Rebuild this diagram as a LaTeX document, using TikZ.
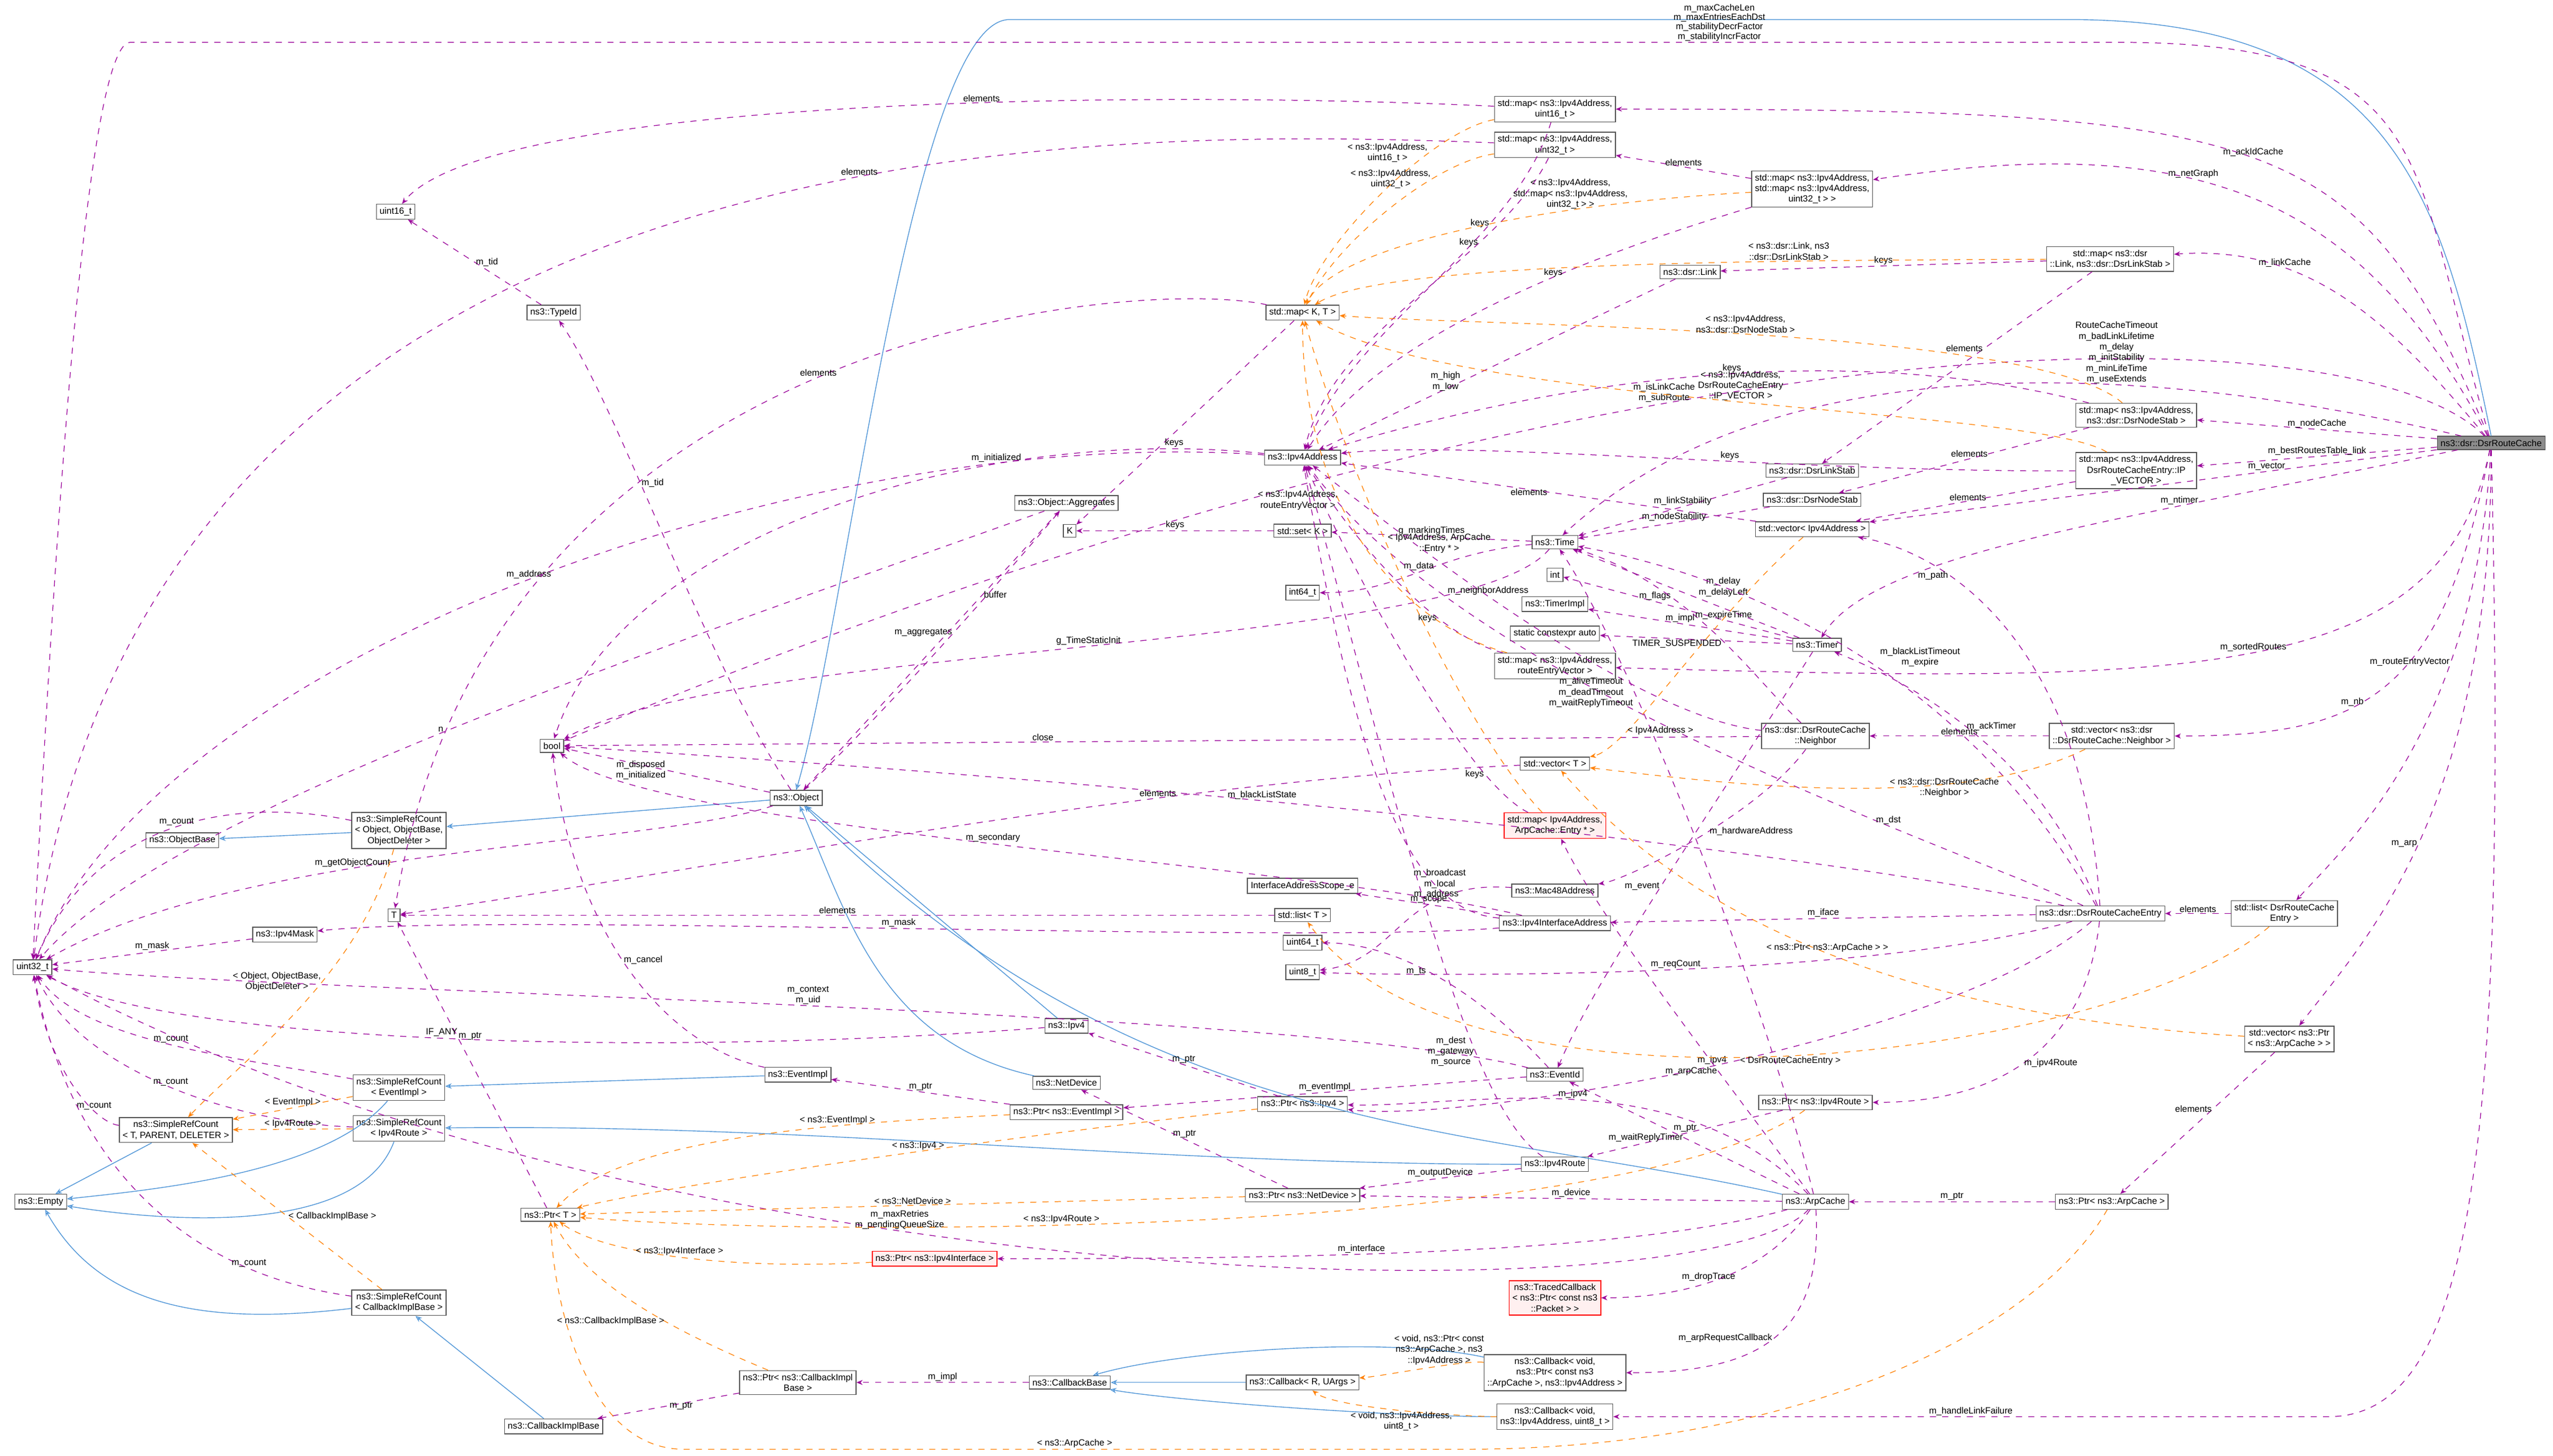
\documentclass[tikz,border=0pt]{standalone}
\usepackage{fontspec}
\setmainfont{Liberation Sans}
\usetikzlibrary{arrows.meta}
\begin{document}
\begin{tikzpicture}[x=0.02796cm,y=-0.02796cm,
  font=\fontsize{4.4}{5.2}\selectfont,
  box/.style={draw=black!65,fill=white,inner sep=1.6pt,align=center,line width=0.4pt},
  redbox/.style={box,draw=red,fill=red!6},
  cur/.style={box,fill=black!45},
  use/.style={draw=violet!80!magenta,dashed,line width=0.35pt,-{Stealth[length=3pt,width=2.4pt]}},
  tpl/.style={draw=orange,dashed,line width=0.35pt,-{Stealth[length=3pt,width=2.4pt]}},
  inh/.style={draw=cyan!60!blue!70,line width=0.4pt,-{Stealth[length=3.2pt,width=2.6pt,open]}},
  lb/.style={fill=none,inner sep=0.5pt,align=center,text=black}]
\useasboundingbox (0,0) rectangle (1568,894);
% nodes
\node[cur] (drc) at (1530,272) {ns3::dsr::DsrRouteCache};
\node[box] (m16) at (955,67) {std::map< ns3::Ipv4Address,\\uint16\_t >};
\node[box] (m32) at (955,89) {std::map< ns3::Ipv4Address,\\uint32\_t >};
\node[box] (mm) at (1113,116) {std::map< ns3::Ipv4Address,\\std::map< ns3::Ipv4Address,\\uint32\_t > >};
\node[box] (mlink) at (1296,159) {std::map< ns3::dsr\\::Link, ns3::dsr::DsrLinkStab >};
\node[box] (link) at (1038,167) {ns3::dsr::Link};
\node[box] (mkt) at (800,192) {std::map< K, T >};
\node[box] (u16) at (243,130) {uint16\_t};
\node[box] (tid) at (340,192) {ns3::TypeId};
\node[box] (agg) at (655,309) {ns3::Object::Aggregates};
\node[box] (K) at (657,326) {K};
\node[box] (setk) at (800,326) {std::set< K >};
\node[box] (ip) at (800,281) {ns3::Ipv4Address};
\node[box] (mnode) at (1312,255) {std::map< ns3::Ipv4Address,\\ns3::dsr::DsrNodeStab >};
\node[box] (mipv) at (1312,289) {std::map< ns3::Ipv4Address,\\DsrRouteCacheEntry::IP\\\_VECTOR >};
\node[box] (lstab) at (1113,289) {ns3::dsr::DsrLinkStab};
\node[box] (nstab) at (1113,307) {ns3::dsr::DsrNodeStab};
\node[box] (vip) at (1113,325) {std::vector< Ipv4Address >};
\node[box] (time) at (955,333) {ns3::Time};
\node[box] (int) at (955,353) {int};
\node[box] (i64) at (800,364) {int64\_t};
\node[box] (timpl) at (955,371) {ns3::TimerImpl};
\node[box] (sca) at (955,389) {static constexpr auto};
\node[box] (mrev) at (955,409) {std::map< ns3::Ipv4Address,\\routeEntryVector >};
\node[box] (timer) at (1116,396) {ns3::Timer};
\node[box] (nb) at (1115,452) {ns3::dsr::DsrRouteCache\\::Neighbor};
\node[box] (vnb) at (1297,452) {std::vector< ns3::dsr\\::DsrRouteCache::Neighbor >};
\node[box] (bool) at (339,458) {bool};
\node[box] (vt) at (955,469) {std::vector< T >};
\node[box] (obj) at (489,490) {ns3::Object};
\node[redbox] (marp) at (955,507) {std::map< Ipv4Address,\\ArpCache::Entry * >};
\node[box] (ob) at (112,516) {ns3::ObjectBase};
\node[box] (srco) at (245,510) {ns3::SimpleRefCount\\< Object, ObjectBase,\\ObjectDeleter >};
\node[box] (mac) at (955,547) {ns3::Mac48Address};
\node[box] (scope) at (800,544) {InterfaceAddressScope\_e};
\node[box] (lt) at (800,562) {std::list< T >};
\node[box] (T) at (242,562) {T};
\node[box] (iia) at (955,567) {ns3::Ipv4InterfaceAddress};
\node[box] (rce) at (1290,561) {ns3::dsr::DsrRouteCacheEntry};
\node[box] (lrce) at (1403,561) {std::list< DsrRouteCache\\Entry >};
\node[box] (u64) at (800,579) {uint64\_t};
\node[box] (u8) at (800,597) {uint8\_t};
\node[box] (u32) at (20,594) {uint32\_t};
\node[box] (mask) at (175,574) {ns3::Ipv4Mask};
\node[box] (ipv4) at (655,630) {ns3::Ipv4};
\node[box] (eid) at (955,660) {ns3::EventId};
\node[box] (eimpl) at (490,660) {ns3::EventImpl};
\node[box] (srce) at (245,668) {ns3::SimpleRefCount\\< EventImpl >};
\node[box] (varp) at (1406,638) {std::vector< ns3::Ptr\\< ns3::ArpCache > >};
\node[box] (nd) at (655,665) {ns3::NetDevice};
\node[box] (pei) at (655,683) {ns3::Ptr< ns3::EventImpl >};
\node[box] (pipv4) at (800,678) {ns3::Ptr< ns3::Ipv4 >};
\node[box] (pir) at (1115,677) {ns3::Ptr< ns3::Ipv4Route >};
\node[box] (srct) at (108,694) {ns3::SimpleRefCount\\< T, PARENT, DELETER >};
\node[box] (srcr) at (245,693) {ns3::SimpleRefCount\\< Ipv4Route >};
\node[box] (ir) at (955,715) {ns3::Ipv4Route};
\node[box] (empty) at (25,738) {ns3::Empty};
\node[box] (pt) at (338,746) {ns3::Ptr< T >};
\node[box] (pnd) at (800,734) {ns3::Ptr< ns3::NetDevice >};
\node[box] (arp) at (1115,738) {ns3::ArpCache};
\node[box] (parp) at (1297,738) {ns3::Ptr< ns3::ArpCache >};
\node[redbox] (pif) at (574,773) {ns3::Ptr< ns3::Ipv4Interface >};
\node[redbox] (tc) at (955,797) {ns3::TracedCallback\\< ns3::Ptr< const ns3\\::Packet > >};
\node[box] (srcc) at (245,800) {ns3::SimpleRefCount\\< CallbackImplBase >};
\node[box] (cbarp) at (955,843) {ns3::Callback< void,\\ns3::Ptr< const ns3\\::ArpCache >, ns3::Ipv4Address >};
\node[box] (pcib) at (490,849) {ns3::Ptr< ns3::CallbackImpl\\Base >};
\node[box] (cbb) at (657,849) {ns3::CallbackBase};
\node[box] (cbr) at (800,849) {ns3::Callback< R, UArgs >};
\node[box] (cbip) at (955,870) {ns3::Callback< void,\\ns3::Ipv4Address, uint8\_t >};
\node[box] (cib) at (340,876) {ns3::CallbackImplBase};
% inheritance
\draw[inh] (drc.north) .. controls (1500,120) and (1470,12) .. (1270,12) -- (620,12) .. controls (560,12) and (520,380) .. (obj.north);
\draw[inh] (obj) -- (srco);
\draw[inh] (srco) -- (ob);
\draw[inh] (srct) -- (empty);
\draw[inh] (srce) .. controls (200,720) and (100,730) .. (empty);
\draw[inh] (eimpl) -- (srce);
\draw[inh] (srcr) .. controls (220,760) and (100,750) .. (empty);
\draw[inh] (ir) .. controls (700,715) and (500,690) .. (srcr);
\draw[inh] (srcc) .. controls (120,815) and (60,800) .. (empty);
\draw[inh] (cib) -- (srcc);
\draw[inh] (ipv4) -- (obj);
\draw[inh] (nd) .. controls (540,640) and (520,560) .. (obj);
\draw[inh] (arp) .. controls (900,690) and (700,700) .. (obj);
\draw[inh] (cbarp) .. controls (850,820) and (720,830) .. (cbb);
\draw[inh] (cbr) -- (cbb);
\draw[inh] (cbip) .. controls (850,870) and (720,860) .. (cbb);
% usage from DsrRouteCache
\draw[use] (drc) .. controls (1480,100) and (1500,26) .. (1300,26) -- node[lb,pos=0.2,above,font=\fontsize{4.4}{4.6}\selectfont]{m\_maxCacheLen\\m\_maxEntriesEachDst\\m\_stabilityDecrFactor\\m\_stabilityIncrFactor} (80,26) .. controls (50,26) and (30,400) .. (u32);
\draw[use] (drc) .. controls (1450,80) and (1400,67) .. node[lb,pos=0.5,above]{m\_ackIdCache} (m16);
\draw[use] (drc) .. controls (1450,120) and (1350,80) .. node[lb,pos=0.6,above]{m\_netGraph} (mm);
\draw[use] (drc) .. controls (1470,200) and (1420,150) .. node[lb,pos=0.7,above]{m\_linkCache} (mlink);
\draw[use] (drc) .. controls (1450,190) and (1000,180) .. node[lb,pos=0.6,above]{m\_isLinkCache\\m\_subRoute} (bool);
\draw[use] (drc) .. controls (1350,230) and (1100,200) .. node[lb,pos=0.38,above]{RouteCacheTimeout\\m\_badLinkLifetime\\m\_delay\\m\_initStability\\m\_minLifeTime\\m\_useExtends} (time);
\draw[use] (drc) -- node[lb,above]{m\_nodeCache} (mnode);
\draw[use] (drc) -- node[lb,above]{m\_bestRoutesTable\_link} (mipv);
\draw[use] (drc) -- node[lb,pos=0.3,above]{m\_vector} (vip);
\draw[use] (drc) .. controls (1300,320) and (1150,340) .. node[lb,pos=0.3,above]{m\_ntimer} (timer);
\draw[use] (drc) .. controls (1500,420) and (1350,420) .. node[lb,pos=0.5,above]{m\_sortedRoutes} (mrev);
\draw[use] (drc) .. controls (1500,430) and (1450,452) .. node[lb,pos=0.6,above]{m\_nb} (vnb);
\draw[use] (drc) .. controls (1520,450) and (1440,520) .. node[lb,pos=0.3,left]{m\_routeEntryVector} (lrce);
\draw[use] (drc) .. controls (1530,500) and (1450,580) .. node[lb,pos=0.5,left]{m\_arp} (varp);
\draw[use] (drc) .. controls (1540,700) and (1520,870) .. (1430,870) -- node[lb,above]{m\_handleLinkFailure} (cbip);
% maps
\draw[use] (m16) .. controls (700,55) and (300,60) .. node[lb,pos=0.4,above]{elements} (u16);
\draw[use] (m32) .. controls (700,80) and (90,60) .. node[lb,pos=0.4,above]{elements} (u32);
\draw[use] (m16) .. controls (930,150) and (830,200) .. node[lb,pos=0.3,left]{keys} (ip);
\draw[use] (m32) .. controls (920,160) and (820,200) .. node[lb,pos=0.3,left]{keys} (ip);
\draw[use] (mm) -- node[lb,above]{elements} (m32);
\draw[use] (mm) .. controls (1000,150) and (850,200) .. node[lb,pos=0.4,left]{keys} (ip);
\draw[use] (mlink) -- node[lb,above]{keys} (link);
\draw[use] (mlink) -- node[lb,pos=0.4,left]{elements} (lstab);
\draw[use] (link) -- node[lb,pos=0.6,left]{m\_high\\m\_low} (ip);
\draw[use] (mkt) .. controls (700,170) and (300,200) .. node[lb,above]{elements} (T);
\draw[use] (mkt) -- node[lb,pos=0.6,right]{keys} (K);
\draw[use] (mnode) .. controls (1100,200) and (900,250) .. node[lb,pos=0.4,above]{keys} (ip);
\draw[use] (mnode) -- node[lb,pos=0.4,left]{elements} (nstab);
\draw[use] (mipv) .. controls (1100,290) and (900,270) .. node[lb,pos=0.4,above]{keys} (ip);
\draw[use] (mipv) -- node[lb,pos=0.4,left]{elements} (vip);
\draw[use] (vip) -- node[lb,pos=0.5,left]{elements} (ip);
\draw[use] (mrev) .. controls (880,390) and (830,330) .. node[lb,pos=0.3,left]{keys} (ip);
\draw[use] (marp) .. controls (900,480) and (830,350) .. node[lb,pos=0.2,left]{keys} (ip);
\draw[use] (vnb) -- node[lb,above]{elements} (nb);
\draw[use] (lrce) -- node[lb,above]{elements} (rce);
\draw[use] (varp) -- node[lb,pos=0.4,left]{elements} (parp);
\draw[use] (lt) -- node[lb,above]{elements} (T);
\draw[use] (vt) .. controls (700,480) and (400,540) .. node[lb,pos=0.3,above]{elements} (T);
\draw[use] (setk) -- node[lb,above]{keys} (K);
% Object & basics
\draw[use] (tid) -- node[lb,right]{m\_tid} (u16);
\draw[use] (obj) .. controls (430,400) and (380,250) .. node[lb,pos=0.6,right]{m\_tid} (tid);
\draw[use] (obj) -- node[lb,pos=0.5,left]{m\_disposed\\m\_initialized} (bool);
\draw[use] (obj) .. controls (560,420) and (620,350) .. node[lb,pos=0.5,left]{m\_aggregates} (agg);
\draw[use] (obj) .. controls (400,520) and (150,520) .. node[lb,pos=0.6,above]{m\_getObjectCount} (u32);
\draw[use] (agg) .. controls (400,400) and (100,500) .. node[lb,pos=0.5,above]{n} (u32);
\draw[use] (agg) -- node[lb,pos=0.3,right]{buffer} (obj);
\draw[use] (ip) .. controls (500,260) and (100,400) .. node[lb,pos=0.5,above]{m\_address} (u32);
\draw[use] (ip) .. controls (600,260) and (380,330) .. node[lb,pos=0.3,above]{m\_initialized} (bool);
\draw[use] (time) -- node[lb,above]{g\_markingTimes} (setk);
\draw[use] (time) .. controls (880,340) and (860,364) .. node[lb,pos=0.5,above]{m\_data} (i64);
\draw[use] (time) .. controls (900,400) and (450,395) .. node[lb,pos=0.5,above]{g\_TimeStaticInit} (bool);
\draw[use] (lstab) -- node[lb,above]{m\_linkStability} (time);
\draw[use] (nstab) -- node[lb,above]{m\_nodeStability} (time);
\draw[use] (timer) -- node[lb,pos=0.45,above right]{m\_delay\\m\_delayLeft} (time);
\draw[use] (timer) -- node[lb,pos=0.6,above]{m\_flags} (int);
\draw[use] (timer) -- node[lb,pos=0.55,above]{m\_impl} (timpl);
\draw[use] (timer) -- node[lb,pos=0.6,below]{TIMER\_SUSPENDED} (sca);
\draw[use] (timer) .. controls (1050,500) and (980,600) .. node[lb,pos=0.5,left]{m\_event} (eid);
\draw[use] (nb) .. controls (1000,440) and (850,320) .. node[lb,pos=0.55,above]{m\_neighborAddress} (ip);
\draw[use] (nb) .. controls (1080,420) and (1040,360) .. node[lb,pos=0.6,right]{m\_expireTime} (time);
\draw[use] (nb) -- node[lb,pos=0.6,above]{close} (bool);
\draw[use] (nb) .. controls (1080,500) and (1000,540) .. node[lb,pos=0.45,right]{m\_hardwareAddress} (mac);
\draw[use] (mac) .. controls (860,540) and (860,590) .. node[lb,pos=0.3,above]{m\_address} (u8);
\draw[use] (iia) .. controls (880,560) and (840,520) .. node[lb,pos=0.3,above]{m\_broadcast\\m\_local} (ip);
\draw[use] (iia) -- node[lb,above]{m\_scope} (scope);
\draw[use] (iia) .. controls (800,580) and (300,560) .. node[lb,pos=0.5,above]{m\_mask} (mask);
\draw[use] (iia) .. controls (800,530) and (400,510) .. node[lb,pos=0.5,above]{m\_secondary} (bool);
\draw[use] (mask) -- node[lb,above]{m\_mask} (u32);
% DsrRouteCacheEntry
\draw[use] (rce) .. controls (1200,520) and (900,420) .. node[lb,pos=0.3,above]{m\_dst} (ip);
\draw[use] (rce) .. controls (1280,400) and (1200,340) .. node[lb,pos=0.7,left]{m\_path} (vip);
\draw[use] (rce) .. controls (1200,400) and (1050,350) .. node[lb,pos=0.42,above right]{m\_blackListTimeout\\m\_expire} (time);
\draw[use] (rce) .. controls (1260,480) and (1200,430) .. node[lb,pos=0.6,right]{m\_ackTimer} (timer);
\draw[use] (rce) -- node[lb,above]{m\_iface} (iia);
\draw[use] (rce) .. controls (1150,600) and (900,600) .. node[lb,pos=0.5,above]{m\_reqCount} (u8);
\draw[use] (rce) .. controls (1100,520) and (700,480) .. node[lb,pos=0.6,above]{m\_blackListState} (bool);
\draw[use] (rce) .. controls (1200,640) and (900,690) .. node[lb,pos=0.5,above]{m\_ipv4} (pipv4);
\draw[use] (rce) .. controls (1280,650) and (1220,677) .. node[lb,pos=0.5,right]{m\_ipv4Route} (pir);
% events
\draw[use] (eid) .. controls (900,600) and (850,579) .. node[lb,pos=0.5,left]{m\_ts} (u64);
\draw[use] (eid) .. controls (800,620) and (200,610) .. node[lb,pos=0.5,above]{m\_context\\m\_uid} (u32);
\draw[use] (eid) -- node[lb,above]{m\_eventImpl} (pei);
\draw[use] (eimpl) .. controls (400,640) and (350,560) .. node[lb,pos=0.5,right]{m\_cancel} (bool);
\draw[use] (pei) -- node[lb,above]{m\_ptr} (eimpl);
\draw[use] (pipv4) -- node[lb,above]{m\_ptr} (ipv4);
\draw[use] (pnd) -- node[lb,above]{m\_ptr} (nd);
\draw[use] (pt) -- node[lb,pos=0.6,right]{m\_ptr} (T);
\draw[use] (pir) -- node[lb,above]{m\_ptr} (ir);
\draw[use] (ir) .. controls (900,680) and (860,500) .. node[lb,pos=0.3,left]{m\_dest\\m\_gateway\\m\_source} (ip);
\draw[use] (ir) -- node[lb,above]{m\_outputDevice} (pnd);
\draw[use] (ipv4) .. controls (400,650) and (100,640) .. node[lb,pos=0.5,above]{IF\_ANY} (u32);
\draw[use] (srco) .. controls (150,490) and (60,500) .. node[lb,above]{m\_count} (u32);
\draw[use] (srce) .. controls (150,650) and (50,640) .. node[lb,above]{m\_count} (u32);
\draw[use] (srcr) .. controls (150,690) and (50,660) .. node[lb,above]{m\_count} (u32);
\draw[use] (srct) .. controls (60,690) and (30,660) .. node[lb,pos=0.3,above]{m\_count} (u32);
\draw[use] (srcc) .. controls (100,780) and (40,700) .. node[lb,pos=0.2,above]{m\_count} (u32);
% ArpCache
\draw[use] (arp) .. controls (1080,600) and (1000,400) .. node[lb,pos=0.7,left]{m\_aliveTimeout\\m\_deadTimeout\\m\_waitReplyTimeout} (time);
\draw[use] (arp) .. controls (1050,650) and (980,560) .. node[lb,pos=0.3,left]{m\_arpCache} (marp);
\draw[use] (arp) -- node[lb,pos=0.5,left]{m\_waitReplyTimer} (eid);
\draw[use] (arp) -- node[lb,above]{m\_device} (pnd);
\draw[use] (arp) .. controls (1000,770) and (800,773) .. node[lb,pos=0.6,above]{m\_interface} (pif);
\draw[use] (arp) .. controls (1080,790) and (1020,797) .. node[lb,pos=0.5,above]{m\_dropTrace} (tc);
\draw[use] (arp) .. controls (1050,810) and (400,800) .. node[lb,pos=0.6,above]{m\_maxRetries\\m\_pendingQueueSize} (u32);
\draw[use] (arp) .. controls (1120,820) and (1080,843) .. node[lb,pos=0.5,left]{m\_arpRequestCallback} (cbarp);
\draw[use] (parp) -- node[lb,above]{m\_ptr} (arp);
\draw[use] (arp) .. controls (1030,650) and (900,680) .. node[lb,pos=0.5,above]{m\_ipv4} (pipv4);
\draw[use] (pcib) -- node[lb,right]{m\_ptr} (cib);
\draw[use] (cbb) -- node[lb,above]{m\_impl} (pcib);
% templates
\draw[tpl] (m16) .. controls (880,80) and (810,150) .. node[lb,pos=0.3,left]{< ns3::Ipv4Address,\\uint16\_t >} (mkt);
\draw[tpl] (m32) .. controls (880,100) and (820,150) .. node[lb,pos=0.3,left]{< ns3::Ipv4Address,\\uint32\_t >} (mkt);
\draw[tpl] (mm) .. controls (950,125) and (820,150) .. node[lb,pos=0.3,above]{< ns3::Ipv4Address,\\std::map< ns3::Ipv4Address,\\uint32\_t > >} (mkt);
\draw[tpl] (mlink) .. controls (1100,160) and (850,160) .. node[lb,pos=0.3,above]{< ns3::dsr::Link, ns3\\::dsr::DsrLinkStab >} (mkt);
\draw[tpl] (mnode) .. controls (1250,200) and (900,200) .. node[lb,pos=0.5,above]{< ns3::Ipv4Address,\\ns3::dsr::DsrNodeStab >} (mkt);
\draw[tpl] (mipv) .. controls (1250,250) and (900,250) .. node[lb,pos=0.5,above]{< ns3::Ipv4Address,\\DsrRouteCacheEntry\\::IP\_VECTOR >} (mkt);
\draw[tpl] (mrev) .. controls (850,380) and (800,300) .. node[lb,pos=0.6,left]{< ns3::Ipv4Address,\\routeEntryVector >} (mkt);
\draw[tpl] (marp) .. controls (900,450) and (830,300) .. node[lb,pos=0.6,right]{< Ipv4Address, ArpCache\\::Entry * >} (mkt);
\draw[tpl] (vip) .. controls (1050,380) and (1000,460) .. node[lb,pos=0.75,right]{< Ipv4Address >} (vt);
\draw[tpl] (vnb) .. controls (1200,500) and (1050,480) .. node[lb,pos=0.4,right]{< ns3::dsr::DsrRouteCache\\::Neighbor >} (vt);
\draw[tpl] (varp) .. controls (1100,620) and (1000,520) .. node[lb,pos=0.4,above]{< ns3::Ptr< ns3::ArpCache > >} (vt);
\draw[tpl] (lrce) .. controls (1300,650) and (900,700) .. node[lb,pos=0.5,below]{< DsrRouteCacheEntry >} (lt);
\draw[tpl] (srco) .. controls (220,600) and (150,650) .. node[lb,pos=0.4,left]{< Object, ObjectBase,\\ObjectDeleter >} (srct);
\draw[tpl] (srce) -- node[lb,above]{< EventImpl >} (srct);
\draw[tpl] (srcr) -- node[lb,above]{< Ipv4Route >} (srct);
\draw[tpl] (srcc) -- node[lb,right]{< CallbackImplBase >} (srct);
\draw[tpl] (pei) .. controls (500,690) and (380,700) .. node[lb,pos=0.3,above]{< ns3::EventImpl >} (pt);
\draw[tpl] (pipv4) .. controls (600,700) and (400,730) .. node[lb,pos=0.4,above]{< ns3::Ipv4 >} (pt);
\draw[tpl] (pnd) -- node[lb,above]{< ns3::NetDevice >} (pt);
\draw[tpl] (pir) .. controls (1000,760) and (500,760) .. node[lb,pos=0.6,above]{< ns3::Ipv4Route >} (pt);
\draw[tpl] (pif) .. controls (450,780) and (370,770) .. node[lb,pos=0.5,above]{< ns3::Ipv4Interface >} (pt);
\draw[tpl] (pcib) .. controls (420,820) and (360,790) .. node[lb,pos=0.4,left]{< ns3::CallbackImplBase >} (pt);
\draw[tpl] (parp) .. controls (1250,820) and (1100,890) .. (900,890) -- node[lb,above]{< ns3::ArpCache >} (420,890) .. controls (360,890) and (340,800) .. (pt);
\draw[tpl] (cbarp) .. controls (900,835) and (850,845) .. node[lb,pos=0.4,above]{< void, ns3::Ptr< const\\ns3::ArpCache >, ns3\\::Ipv4Address >} (cbr);
\draw[tpl] (cbip) .. controls (900,870) and (820,865) .. node[lb,pos=0.5,below]{< void, ns3::Ipv4Address,\\uint8\_t >} (cbr);
\end{tikzpicture}
\end{document}
